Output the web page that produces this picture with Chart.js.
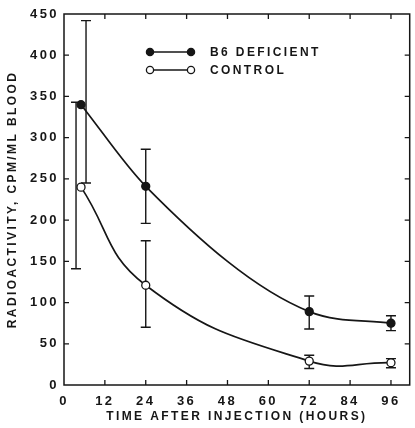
<!DOCTYPE html>
<html>
<head>
<meta charset="utf-8">
<script src="https://cdn.jsdelivr.net/npm/chart.js@4/dist/chart.umd.min.js"></script>
<style>
  html, body { margin: 0; padding: 0; background: #fff; }
  canvas { display: block; }
</style>
</head>
<body>
<canvas id="chart" width="415" height="428"></canvas>
<script>
// Blood radioactivity after injection, mean with error range
const hours = [5, 24, 72, 96];
const deficientMean = [340, 241, 89, 75];
const deficientLow  = [245, 196, 68, 66];
const deficientHigh = [442, 286, 108, 84];
const controlMean = [240, 121, 29, 27];
const controlLow  = [141, 70, 20, 21];
const controlHigh = [343, 175, 36, 32];
const seriesNames = ['B6 DEFICIENT', 'CONTROL'];
const xTickValues = [0, 12, 24, 36, 48, 60, 72, 84, 96];
const yTickValues = [0, 50, 100, 150, 200, 250, 300, 350, 400, 450];
const xTitle = 'TIME AFTER INJECTION (HOURS)';
const yTitle = 'RADIOACTIVITY, CPM/ML BLOOD';

const INK = '#161616';
const FONT = '"Liberation Sans", Arial, sans-serif';

const toXY = (xs, ys) => xs.map((x, i) => ({ x, y: ys[i] }));

// letter spacing for all canvas text
const spacing = {
  id: 'spacing',
  beforeUpdate(chart) { chart.ctx.letterSpacing = '2.4px'; },
  beforeDraw(chart) { chart.ctx.letterSpacing = '2.4px'; }
};

// boxed frame with short inward ticks on all four sides
const frame = {
  id: 'frame',
  beforeDatasetsDraw(chart) {
    const { ctx, chartArea: a, scales } = chart;
    const len = 5;
    ctx.save();
    ctx.strokeStyle = INK;
    ctx.lineWidth = 1.5;
    ctx.strokeRect(a.left, a.top, a.right - a.left, a.bottom - a.top);
    ctx.lineWidth = 1.3;
    ctx.beginPath();
    scales.x.ticks.forEach(t => {
      if (t.value <= scales.x.min) return;
      const px = scales.x.getPixelForValue(t.value);
      ctx.moveTo(px, a.bottom); ctx.lineTo(px, a.bottom - len);
      ctx.moveTo(px, a.top); ctx.lineTo(px, a.top + len);
    });
    scales.y.ticks.forEach(t => {
      if (t.value <= scales.y.min || t.value >= scales.y.max) return;
      const py = scales.y.getPixelForValue(t.value);
      ctx.moveTo(a.left, py); ctx.lineTo(a.left + len, py);
      ctx.moveTo(a.right, py); ctx.lineTo(a.right - len, py);
    });
    ctx.stroke();
    ctx.restore();
  }
};

// vertical error bars with caps, drawn under the markers
const errorBars = {
  id: 'errorBars',
  beforeDatasetsDraw(chart, args, opts) {
    const { ctx, scales } = chart;
    ctx.save();
    ctx.strokeStyle = INK;
    ctx.lineWidth = 1.4;
    chart.data.datasets.forEach((ds, di) => {
      const meta = chart.getDatasetMeta(di);
      const shift = ds.barShift || [];
      meta.data.forEach((pt, i) => {
        const x = pt.x + (shift[i] || 0);
        const yLo = scales.y.getPixelForValue(ds.low[i]);
        const yHi = scales.y.getPixelForValue(ds.high[i]);
        const cap = opts.cap;
        ctx.beginPath();
        ctx.moveTo(x, yHi); ctx.lineTo(x, yLo);
        ctx.moveTo(x - cap, yHi); ctx.lineTo(x + cap, yHi);
        ctx.moveTo(x - cap, yLo); ctx.lineTo(x + cap, yLo);
        ctx.stroke();
      });
    });
    ctx.restore();
  }
};

// key inside the plot: marker-line-marker followed by the series name
const keyBox = {
  id: 'keyBox',
  afterDatasetsDraw(chart, args, opts) {
    const { ctx, chartArea: a } = chart;
    ctx.save();
    ctx.font = 'bold 12px ' + FONT;
    ctx.textBaseline = 'middle';
    ctx.textAlign = 'left';
    chart.data.datasets.forEach((ds, i) => {
      const y = a.top + opts.top + i * opts.gap;
      const x0 = a.left + opts.left;
      const x1 = x0 + opts.lineLength;
      ctx.strokeStyle = INK;
      ctx.lineWidth = 1.5;
      ctx.beginPath(); ctx.moveTo(x0, y); ctx.lineTo(x1, y); ctx.stroke();
      [x0, x1].forEach(cx => {
        ctx.beginPath();
        ctx.arc(cx, y, 3.6, 0, Math.PI * 2);
        ctx.fillStyle = ds.pointBackgroundColor;
        ctx.fill();
        ctx.lineWidth = 1.3;
        ctx.stroke();
      });
      ctx.fillStyle = INK;
      ctx.fillText(ds.label, x1 + 19, y + 0.5);
    });
    ctx.restore();
  }
};

const tickFont = { family: FONT, size: 13, weight: 'bold' };
const titleFont = { family: FONT, size: 12, weight: 'bold' };

new Chart(document.getElementById('chart'), {
  type: 'line',
  data: {
    datasets: [
      {
        label: seriesNames[0],
        data: toXY(hours, deficientMean),
        low: deficientLow,
        high: deficientHigh,
        barShift: [5, 0, 0, 0],
        borderColor: INK,
        borderWidth: 1.7,
        pointBackgroundColor: INK,
        pointBorderColor: INK,
        pointBorderWidth: 1.3,
        pointRadius: 4,
        cubicInterpolationMode: 'monotone',
        fill: false
      },
      {
        label: seriesNames[1],
        data: toXY(hours, controlMean),
        low: controlLow,
        high: controlHigh,
        barShift: [-5, 0, 0, 0],
        borderColor: INK,
        borderWidth: 1.7,
        pointBackgroundColor: '#ffffff',
        pointBorderColor: INK,
        pointBorderWidth: 1.3,
        pointRadius: 4,
        tension: 0.45,
        fill: false
      }
    ]
  },
  options: {
    responsive: false,
    animation: false,
    layout: { padding: { left: 0, right: 2, top: 14, bottom: 0 } },
    plugins: {
      legend: { display: false },
      tooltip: { enabled: false },
      errorBars: { cap: 5 },
      keyBox: { left: 86, top: 38, gap: 18, lineLength: 41 }
    },
    scales: {
      x: {
        type: 'linear',
        min: 0,
        max: 101.5,
        afterBuildTicks: s => { s.ticks = xTickValues.map(v => ({ value: v })); },
        afterFit: s => { s.height = 43; },
        grid: { display: false, drawTicks: false },
        border: { display: false },
        ticks: { color: INK, font: tickFont, padding: 9, maxRotation: 0, autoSkip: false },
        title: { display: true, text: xTitle, color: INK, font: titleFont, padding: { top: 0, bottom: 4 } }
      },
      y: {
        type: 'linear',
        min: 0,
        max: 450,
        afterBuildTicks: s => { s.ticks = yTickValues.map(v => ({ value: v })); },
        afterFit: s => { s.width = 64; },
        grid: { display: false, drawTicks: false },
        border: { display: false },
        ticks: { color: INK, font: tickFont, padding: 5, autoSkip: false },
        title: { display: true, text: yTitle, color: INK, font: titleFont, padding: { top: 5, bottom: 0 } }
      }
    }
  },
  plugins: [spacing, frame, errorBars, keyBox]
});
</script>
</body>
</html>
